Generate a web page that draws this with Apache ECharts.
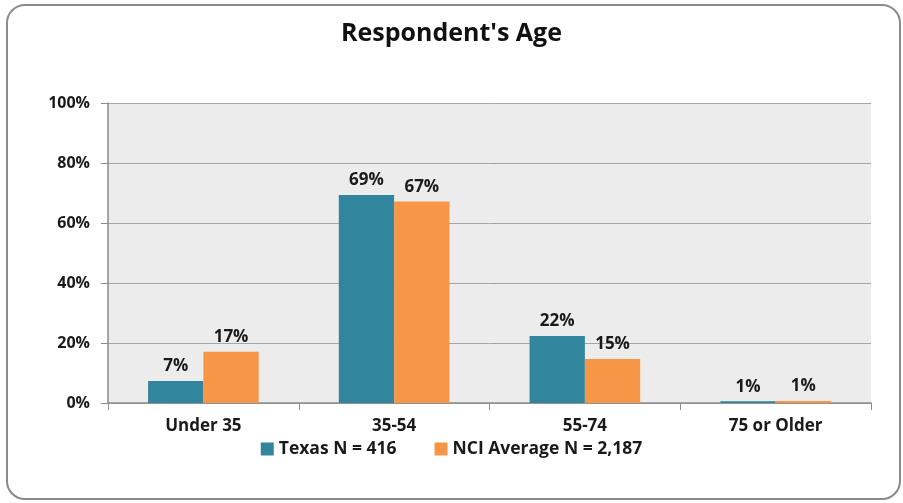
<!DOCTYPE html>
<html>
<head>
<meta charset="utf-8">
<script src="https://cdn.jsdelivr.net/npm/echarts@6/dist/echarts.min.js"></script>
<style>
  html, body { margin: 0; padding: 0; background: #fff; }
  #chart { width: 903px; height: 503px; }
</style>
</head>
<body>
<div id="chart"></div>
<script>
var categories = ['Under 35', '35-54', '55-74', '75 or Older'];
var texasValues = [7.3, 69.3, 22.3, 0.6];
var nciValues = [17.1, 67.2, 14.7, 0.7];
var seriesNames = ['Texas N = 416', 'NCI Average N = 2,187'];
var fontFam = '"Open Sans", "Noto Sans", sans-serif';

var chart = echarts.init(document.getElementById('chart'));

var labelStyle = {
  show: true,
  position: 'top',
  distance: 6,
  color: '#1a1a1a',
  fontFamily: fontFam,
  fontWeight: 'bold',
  fontSize: 17,
  formatter: function (p) { return Math.round(p.value) + '%'; }
};

var option = {
  animation: false,
  backgroundColor: '#fff',
  title: {
    text: "Respondent's Age",
    left: 'center',
    top: 16,
    textStyle: { fontFamily: fontFam, fontWeight: 'bold', fontSize: 25, color: '#111' }
  },
  legend: {
    bottom: 40,
    left: 'center',
    itemWidth: 13,
    itemHeight: 13,
    itemGap: 38,
    icon: 'rect',
    data: seriesNames,
    textStyle: { fontFamily: fontFam, fontWeight: 'bold', fontSize: 17.5, color: '#1a1a1a' }
  },
  graphic: [{
    type: 'rect',
    shape: { x: 7, y: 5, width: 893, height: 494, r: 18 },
    style: { fill: 'none', stroke: '#8a8a8a', lineWidth: 2 },
    z: -1
  }],
  grid: {
    left: 108, right: 32, top: 103, bottom: 100,
    show: true,
    backgroundColor: '#ececec',
    borderWidth: 0
  },
  xAxis: {
    type: 'category',
    data: categories,
    axisLine: { lineStyle: { color: '#8c8c8c', width: 1.5 } },
    axisTick: { show: true, length: 7, lineStyle: { color: '#8c8c8c' } },
    axisLabel: { margin: 15, color: '#1a1a1a', fontFamily: fontFam, fontWeight: 'bold', fontSize: 17 }
  },
  yAxis: {
    type: 'value',
    min: 0, max: 100, interval: 20,
    axisLine: { show: true, lineStyle: { color: '#8c8c8c', width: 1.5 } },
    axisTick: { show: true, length: 7, lineStyle: { color: '#8c8c8c' } },
    splitLine: { lineStyle: { color: '#a6a6a6', width: 1 } },
    axisLabel: {
      margin: 18,
      formatter: '{value}%',
      color: '#1a1a1a', fontFamily: fontFam, fontWeight: 'bold', fontSize: 16
    }
  },
  series: [{
    name: seriesNames[0],
    type: 'bar',
    data: texasValues,
    barGap: '0%',
    barCategoryGap: '42%',
    itemStyle: { color: '#31859c' },
    label: labelStyle
  }, {
    name: seriesNames[1],
    type: 'bar',
    data: nciValues,
    itemStyle: { color: '#f79646' },
    label: labelStyle
  }]
};

chart.setOption(option);
</script>
</body>
</html>
